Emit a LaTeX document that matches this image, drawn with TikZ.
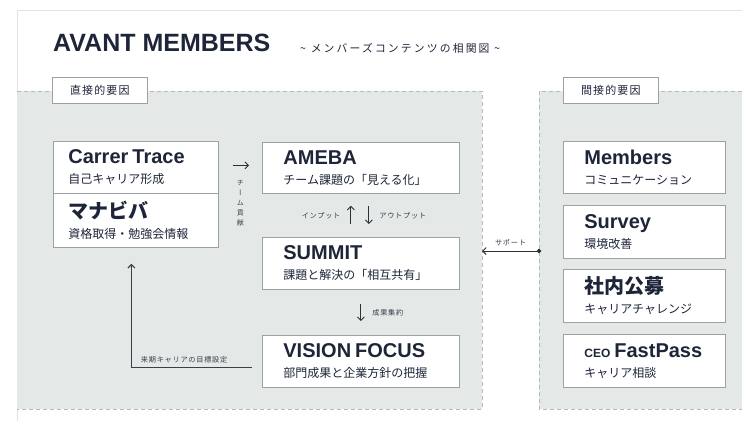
\documentclass[tikz,border=0pt]{standalone}
\usepackage{fontspec}
\setmainfont{Liberation Sans}
\newfontfamily\jpfont{Noto Sans CJK JP}
\usepackage{tikz}
\usetikzlibrary{arrows.meta}
\definecolor{avant navy}{HTML}{1E2538}
\definecolor{avant panel}{HTML}{E4E8E7}
\definecolor{avant edge}{HTML}{9DA1A5}
\definecolor{avant dash}{HTML}{B4B9BC}
\definecolor{avant frame}{HTML}{E2E2E2}
\definecolor{avant label}{HTML}{3A3F4A}
\definecolor{avant arrow}{HTML}{2B303B}

\newcommand{\boxhead}[1]{\mbox{\fontsize{20}{22}\selectfont\bfseries #1}}
\newcommand{\jphead}[1]{\mbox{\jpfont\fontsize{20}{22}\selectfont\bfseries #1}}
\newcommand{\boxsub}[1]{{\jpfont #1}}

\begin{document}
\begin{tikzpicture}[x=1pt, y=-1pt,
	card/.style={draw=avant edge, line width=0.8pt, fill=white, anchor=north west,
		minimum height=52pt, inner xsep=21pt, text width=155pt, align=left,
		text=avant navy, font=\fontsize{12}{20}\selectfont},
	tab/.style={draw=avant edge, line width=0.7pt, fill=white, anchor=north west,
		minimum width=95pt, minimum height=26pt, inner sep=0pt, text=avant navy,
		font=\jpfont\fontsize{11}{11}\selectfont\addfontfeatures{LetterSpace=10}},
	arr/.style={draw=avant arrow, line width=0.9pt, -{Straight Barb[length=3.5pt,width=7pt]}},
	small/.style={text=avant label, font=\jpfont\fontsize{7.2}{7.2}\selectfont\addfontfeatures{LetterSpace=10}, inner sep=1pt},
]
	\useasboundingbox (0,0) rectangle (742,421);
	% page frame
	\draw[avant frame, line width=0.8pt] (742,10) -- (17,10) -- (17,421);
	% title
	\node[anchor=base west, inner sep=0pt, text=avant navy, font=\fontsize{25}{25}\selectfont\bfseries]
		(title) at (53,51) {AVANT MEMBERS};
	\node[anchor=base west, inner sep=0pt, text=avant navy,
		font=\jpfont\fontsize{10.8}{10.8}\selectfont\addfontfeatures{LetterSpace=20}]
		(subtitle) at (300,52) {\textasciitilde{} メンバーズコンテンツの相関図 \textasciitilde};
	% part for the two panels
	\begin{scope}
		\fill[avant panel] (17,91) rectangle (482,409);
		\draw[avant dash, dash pattern=on 4pt off 3pt] (17,91) -- (482,91) -- (482,409) -- (17,409);
		\fill[avant panel] (539,91) rectangle (742,409);
		\draw[avant dash, dash pattern=on 4pt off 3pt] (742,91) -- (539,91) -- (539,409) -- (742,409);
	\end{scope}
	\node[tab] (directtab) at (52,77) {直接的要因};
	\node[tab] (indirecttab) at (563,77) {間接的要因};
	% direct boxes
	\node[card, inner xsep=15pt, text width=135pt] (ct) at (53,141)
		{\boxhead{Carrer Trace}\\\boxsub{自己キャリア形成}};
	\node[card, inner xsep=15pt, text width=135pt, minimum height=54pt] (mnb) at (53,193)
		{\jphead{マナビバ}\\\boxsub{資格取得・勉強会情報}};
	\node[card, minimum height=51pt] (ameba) at (262,142)
		{\boxhead{AMEBA}\\\boxsub{チーム課題の「見える化」}};
	\node[card] (summit) at (262,237)
		{\boxhead{SUMMIT}\\\boxsub{課題と解決の「相互共有」}};
	\node[card] (vision) at (262,335)
		{\boxhead{VISION FOCUS}\\\boxsub{部門成果と企業方針の把握}};
	% indirect boxes
	\node[card, text width=120pt] (members) at (563,141)
		{\boxhead{Members}\\\boxsub{コミュニケーション}};
	\node[card, text width=120pt, minimum height=53pt] (survey) at (563,205)
		{\boxhead{Survey}\\\boxsub{環境改善}};
	\node[card, text width=120pt, minimum height=53pt] (koubo) at (563,269)
		{\jphead{社内公募}\\\boxsub{キャリアチャレンジ}};
	\node[card, text width=120pt, minimum height=53pt] (fastpass) at (563,334)
		{\boxhead{{\fontsize{12}{12}\selectfont CEO} FastPass}\\\boxsub{キャリア相談}};
	% arrows
	\draw[arr, shorten <=14pt, shorten >=13pt] ([yshift=2pt]ct.east) --
		node[small, below=13pt, align=center, font=\jpfont\fontsize{7}{10}\selectfont\addfontfeatures{RawFeature=+vert}] (teamlbl)
		{チ\\ー\\ム\\貢\\献} ([yshift=2pt]ct.east -| ameba.west);
	\draw[arr, shorten <=13pt, shorten >=12pt] ([xshift=-10pt]summit.north) --
		node[small, left=9pt] (inputlbl) {インプット} ([xshift=-10pt]ameba.south);
	\draw[arr, shorten <=12pt, shorten >=13pt] ([xshift=8pt]ameba.south) --
		node[small, right=9pt] (outputlbl) {アウトプット} ([xshift=8pt]summit.north);
	\draw[arr, shorten <=14pt, shorten >=14pt] (summit.south) --
		node[small, right=10pt] (shuyakulbl) {成果集約} (vision.north);
	\draw[arr, draw=avant label, line width=1.1pt, shorten <=10pt, shorten >=16pt] ([yshift=-6pt]vision.west) -|
		node[small, pos=0.5, anchor=south west, xshift=8pt, yshift=3pt] (goallbl)
		{来期キャリアの目標設定} ([xshift=-4.5pt]mnb.south);
	% support from the indirect side
	\coordinate (supfrom) at (539,251);
	\coordinate (supto) at (482,251);
	\draw[draw=avant arrow, line width=0.9pt, shorten >=-2.25pt,
		{Straight Barb[length=3.5pt,width=7pt]}-{Circle[length=4.5pt]}] (supto) --
		node[small, above=4pt] (supportlbl) {サポート} (supfrom);
\end{tikzpicture}
\end{document}
